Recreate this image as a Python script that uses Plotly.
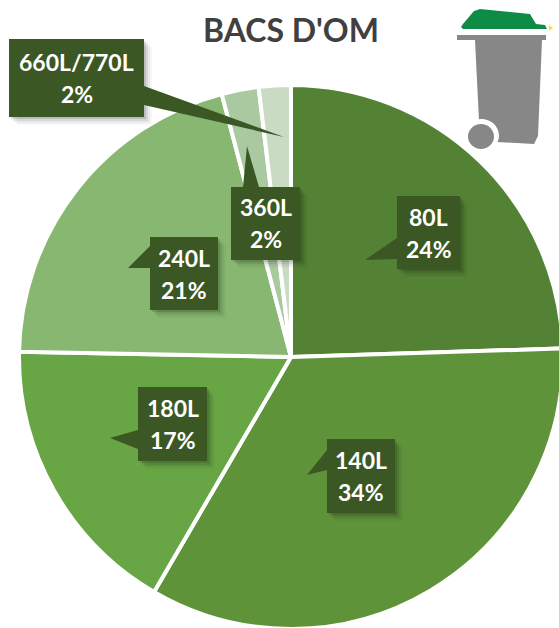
import plotly.graph_objects as go

categories = ["80L", "140L", "180L", "240L", "360L", "660L/770L"]
values = [24.5, 33.9, 16.9, 20.6, 2.2, 1.9]
shown_pct = ["24%", "34%", "17%", "21%", "2%", "2%"]
colors = ["#548235", "#5E933A", "#68A545", "#87B771", "#ABC9A1", "#C9DBC3"]

W, H = 570, 636
CX, CY, R = 291, 357, 272
BOX = "#3B5723"

# label box (x0, y0, x1, y1) and callout wedge (base a, base b, tip)
boxes = {
    "80L": ((397, 196, 460, 269), ((397, 238), (397, 259), (365, 260))),
    "140L": ((327, 439, 395, 513), ((327, 450), (327, 470), (307, 475))),
    "180L": ((138, 387, 207, 461), ((138, 430), (138, 449), (110, 438))),
    "240L": ((150, 237, 218, 310), ((150, 246), (150, 268), (128, 268))),
    "360L": ((231, 187, 300, 260), ((243, 187), (259, 187), (247, 146))),
    "660L/770L": ((9, 39, 144, 117), ((144, 86), (144, 105), (284, 137))),
}


def px(x):
    return x / W


def py(y):
    return 1 - y / H


def path(points, close=True):
    d = "M" + " L".join(f"{px(x):.5f},{py(y):.5f}" for x, y in points)
    return d + (" Z" if close else "")


def poly(points, color, opacity=1.0):
    return dict(type="path", xref="paper", yref="paper", path=path(points),
                fillcolor=color, opacity=opacity, line=dict(width=0))


def disc(x0, y0, x1, y1, color):
    return dict(type="circle", xref="paper", yref="paper", x0=px(x0), x1=px(x1), y0=py(y1), y1=py(y0),
                fillcolor=color, line=dict(width=0))


fig = go.Figure(go.Pie(
    labels=categories, values=values, sort=False, direction="clockwise", rotation=0,
    marker=dict(colors=colors, line=dict(color="white", width=4)),
    textinfo="none", hoverinfo="label+percent", showlegend=False,
    domain=dict(x=[(CX - R) / W, (CX + R) / W], y=[1 - (CY + R) / H, 1 - (CY - R) / H]),
))

shapes = []
annotations = []
for name, pct in zip(categories, shown_pct):
    (x0, y0, x1, y1), (a, b, tip) = boxes[name]
    rect = [(x0, y0), (x1, y0), (x1, y1), (x0, y1)]
    for off, op in ((8, 0.03), (6, 0.05), (4, 0.08), (2, 0.12)):
        shifted = [(x + off, y + off) for x, y in rect]
        shapes.append(poly(shifted, "#000000", op))
    shapes.append(poly([a, b, tip], BOX))
    shapes.append(poly(rect, BOX))
    ymid = (y0 + y1) / 2
    for text, yy in ((name, ymid - 16), (pct, ymid + 16)):
        annotations.append(dict(
            x=px((x0 + x1) / 2), y=py(yy), xref="paper", yref="paper",
            xanchor="center", yanchor="middle",
            text=text, showarrow=False, align="center",
            font=dict(family="Lato", size=23, color="white", weight="bold"),
        ))

# bin icon
GRAY = "#878787"
GREEN = "#0E8C46"
shapes += [
    poly([(463, 24), (474, 11), (480, 9), (530, 14), (536, 24), (545, 25), (547, 29), (463, 29), (461, 27)], GREEN),
    poly([(457, 35), (546, 35), (546, 40), (457, 40)], GRAY),
    poly([(475, 40), (542, 40), (538, 136), (534, 144), (480, 141)], GRAY),
    disc(463, 119, 499, 152, "white"),
    disc(468, 124, 494, 149, GRAY),
    poly([(549, 25), (553, 28), (549, 31)], "#F2E33B"),
]

annotations.append(dict(
    x=px(291), y=py(30), xref="paper", yref="paper", xanchor="center", yanchor="middle",
    text="BACS D'OM", showarrow=False,
    font=dict(family="Lato", size=32, color="#404040", weight="bold"),
))

fig.update_layout(
    width=W, height=H, margin=dict(l=0, r=0, t=0, b=0),
    paper_bgcolor="white", shapes=shapes, annotations=annotations,
)
fig.write_html("out.html", config=dict(displayModeBar=False),
               post_script="document.body.style.margin='0';document.documentElement.style.overflow='hidden';")
